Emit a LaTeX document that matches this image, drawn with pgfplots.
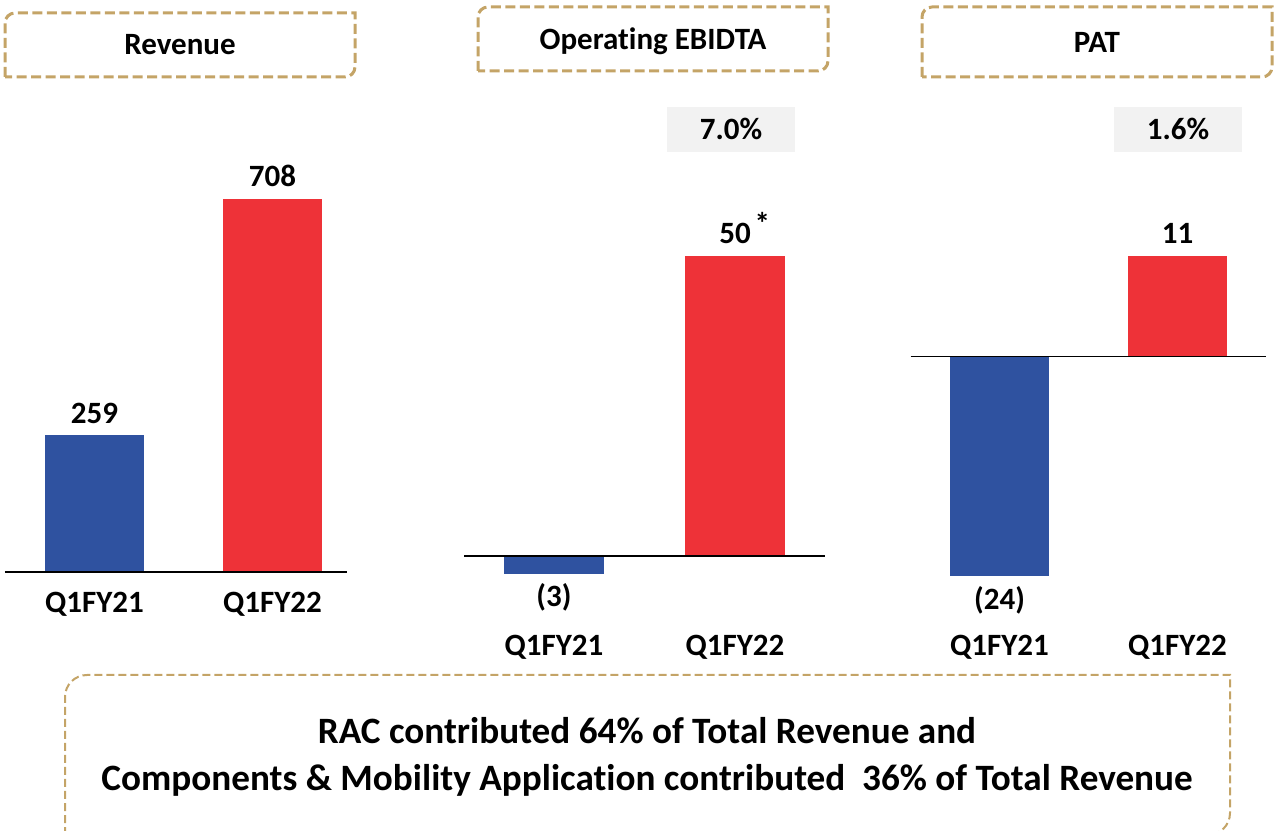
\documentclass[border=0pt]{standalone}
\usepackage{pgfplots}
\pgfplotsset{compat=1.18}
\usepackage{fontspec}
\setmainfont{Carlito}[Ligatures={NoCommon}]
\definecolor{barblue}{HTML}{2F52A0}
\definecolor{barred}{HTML}{EE3238}
\definecolor{boxtan}{HTML}{C4A467}
\definecolor{pctgray}{HTML}{F2F2F2}
\newcommand{\lbl}{\bfseries\fontsize{31}{37}\selectfont}
\newcommand{\bigtxt}{\bfseries\fontsize{37.2}{44}\selectfont}
\pgfplotsset{panel/.style={scale only axis, axis line style={draw=none},
  ytick=\empty, xtick={0,1}, xticklabels={Q1FY21,Q1FY22},
  tick style={draw=none}, major tick length=0pt,
  ybar, bar width=99.5pt, bar shift=0pt, clip=false,
  point meta=explicit symbolic, nodes near coords,
  nodes near coords style={font=\lbl, inner sep=0pt},
  xticklabel style={font=\lbl, inner sep=0pt, anchor=base}}}
\begin{document}
\begin{tikzpicture}[x=1pt,y=1pt]
\path[use as bounding box] (0pt,0pt) rectangle (1277pt,830pt);
\begin{scope}
\clip (0,0) rectangle (1277,830);
% title boxes
\draw[boxtan, line width=3pt, dash pattern=on 10pt off 4.5pt] (5,753) -- (5,807) arc[start angle=180,end angle=90,radius=10] -- (355,817) -- (355,763) arc[start angle=0,end angle=-90,radius=10] -- cycle;
\draw[boxtan, line width=3pt, dash pattern=on 10pt off 4.5pt] (478,759) -- (478,813) arc[start angle=180,end angle=90,radius=10] -- (828,823) -- (828,769) arc[start angle=0,end angle=-90,radius=10] -- cycle;
\draw[boxtan, line width=3pt, dash pattern=on 10pt off 4.5pt] (922,753) -- (922,813) arc[start angle=180,end angle=90,radius=10] -- (1272,823) -- (1272,763) arc[start angle=0,end angle=-90,radius=10] -- cycle;
% bottom box
\draw[boxtan, line width=2pt, dash pattern=on 8pt off 4pt] (65,-5) -- (65,133) arc[start angle=180,end angle=90,radius=22] -- (1230,155) -- (1230,17) arc[start angle=0,end angle=-90,radius=22] -- cycle;
\end{scope}
\node[font=\lbl, anchor=base, inner sep=0] at (180,775) {Revenue};
\node[font=\lbl, anchor=base, inner sep=0] at (653,780) {Operat\kern0pt ing EBIDTA};
\node[font=\lbl, anchor=base, inner sep=0] at (1097,777) {PAT};
% percentage boxes
\fill[pctgray] (667,678.3) rectangle (795,723);
\fill[pctgray] (1114,678.3) rectangle (1242,723);
\node[font=\lbl, anchor=base, inner sep=0] at (731,690) {7.0\%};
\node[font=\lbl, anchor=base, inner sep=0] at (1178,690) {1.6\%};
% bottom text
\node[font=\bigtxt, anchor=base, inner sep=0] at (647,86) {RAC contributed 64\% of Total Revenue and};
\node[font=\bigtxt, anchor=base, inner sep=0] at (647,39) {Components \& Mobility Applicat\kern0pt ion contributed~ 36\% of Total Revenue};

% Panel 1: Revenue
\begin{axis}[panel, at={(5pt,258pt)}, anchor=south west, width=342pt, height=411.45pt,
  xmin=-0.5028, xmax=1.4185, ymin=0, ymax=780, xticklabel style={yshift=-40.7pt}]
\addplot[fill=barblue, draw=none, every node near coord/.append style={anchor=base, yshift=12pt}] coordinates {(0,259) [259]};
\addplot[fill=barred, draw=none, every node near coord/.append style={anchor=base, yshift=12pt}] coordinates {(1,708) [708]};
\draw[line width=1.6pt] (axis cs:-0.5028,0) -- (axis cs:1.4185,0);
\end{axis}

% Panel 2: Operating EBIDTA
\begin{axis}[panel, at={(464pt,244pt)}, anchor=south west, width=361pt, height=390pt,
  xmin=-0.497, xmax=1.497, ymin=-5, ymax=60, xticklabel style={yshift=-70pt}]
\addplot[fill=barblue, draw=none, every node near coord/.append style={anchor=base, yshift=-33pt}] coordinates {(0,-3) [{(3)}]};
\addplot[fill=barred, draw=none, every node near coord/.append style={anchor=base, yshift=12pt}] coordinates {(1,50) [{50\rlap{\kern4pt\raisebox{9pt}{*}}}]};
\draw[line width=1.6pt] (axis cs:-0.497,0) -- (axis cs:1.497,0);
\end{axis}

% Panel 3: PAT
\begin{axis}[panel, at={(910.7pt,198.7pt)}, anchor=south west, width=355pt, height=457.75pt,
  xmin=-0.499, xmax=1.4955, ymin=-30, ymax=20, xticklabel style={yshift=-24.7pt}]
\addplot[fill=barblue, draw=none, every node near coord/.append style={anchor=base, yshift=-33pt}] coordinates {(0,-24) [{(24)}]};
\addplot[fill=barred, draw=none, every node near coord/.append style={anchor=base, yshift=12pt}] coordinates {(1,11) [11]};
\draw[line width=1.6pt] (axis cs:-0.499,0) -- (axis cs:1.4955,0);
\end{axis}
\end{tikzpicture}
\end{document}
